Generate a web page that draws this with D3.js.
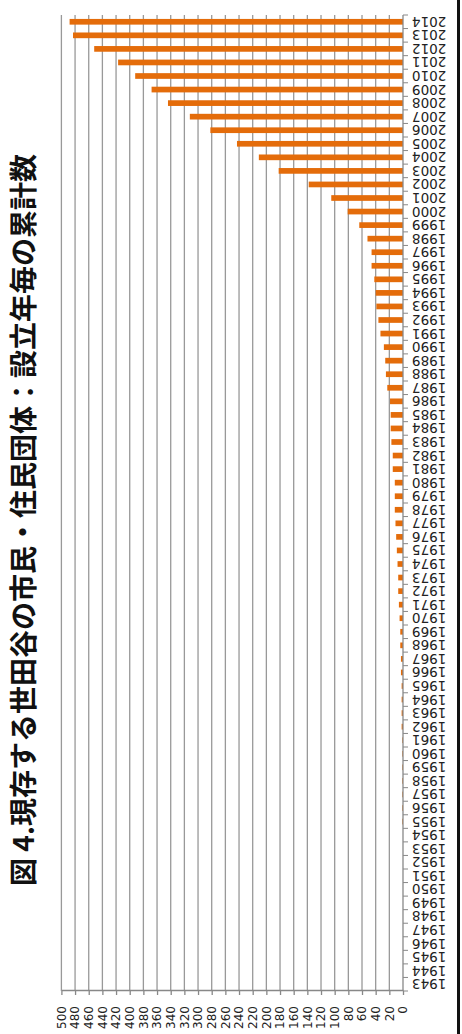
<!DOCTYPE html>
<html>
<head>
<meta charset="utf-8">
<script src="https://cdn.jsdelivr.net/npm/d3@7"></script>
<style>
  html, body { margin: 0; padding: 0; background: #fff; }
  svg { display: block; }
</style>
</head>
<body>
<svg id="chart" width="462" height="1034"></svg>
<script>
// ---- data ----
const title = "図 4.現存する世田谷の市民・住民団体：設立年毎の累計数";
const years = d3.range(1943, 2015).map(String);
const counts = [
  0, 0, 0, 0, 0, 0, 0, 0, 0, 0, 0, 0,        // 1943-1954
  1, 1, 1, 1, 1, 1, 1,                         // 1955-1961
  2, 2, 2, 2,                                  // 1962-1965
  3, 3, 4, 4,                                  // 1966-1969
  5, 6, 7, 7, 8, 9, 10, 11,                    // 1970-1977
  12, 12, 12, 15, 15, 17, 18, 18, 19,          // 1978-1986
  23, 25, 26, 28, 33, 36, 39, 40, 42,          // 1987-1995
  46, 46, 52, 64, 81, 105,                     // 1996-2001
  138, 182, 211, 243, 282, 312, 344, 368,      // 2002-2009
  392, 417, 452, 483, 488                      // 2010-2014
];
const valueTicks = d3.range(0, 501, 20);

// ---- layout (original unrotated chart: width 1034, height 462) ----
const W = 1034, H = 462;
const svg = d3.select("#chart");
const g = svg.append("g").attr("transform", `translate(0,${W}) rotate(-90)`);

const x = d3.scaleBand().domain(years).range([43, 1019]).paddingInner(0.58).paddingOuter(0.29);
const y = d3.scaleLinear().domain([0, 500]).range([403, 61.4]);
const step = x.step();

// gridlines
g.append("g").selectAll("line").data(valueTicks.filter(t => t > 0)).join("line")
  .attr("x1", 43).attr("x2", 1019)
  .attr("y1", d => y(d)).attr("y2", d => y(d))
  .attr("stroke", "#999").attr("stroke-width", 1.3);

// bars
g.append("g").selectAll("rect").data(years).join("rect")
  .attr("x", d => x(d))
  .attr("width", x.bandwidth())
  .attr("y", (d, i) => y(counts[i]))
  .attr("height", (d, i) => y(0) - y(counts[i]))
  .attr("fill", "#E46C0A");

// value axis
const yAxis = g.append("g").attr("transform", "translate(43,0)")
  .call(d3.axisLeft(y).tickValues(valueTicks).tickSize(4).tickSizeOuter(0).tickPadding(11));
yAxis.select(".domain").attr("stroke", "#888").attr("stroke-width", 1.3);
yAxis.selectAll(".tick line").attr("stroke", "#888").attr("stroke-width", 1.3);
yAxis.selectAll("text").attr("font-family", "DejaVu Sans, sans-serif").attr("font-size", 12).attr("fill", "#222");

// category axis line and ticks
g.append("line").attr("x1", 43).attr("x2", 1019).attr("y1", 403).attr("y2", 403)
  .attr("stroke", "#888").attr("stroke-width", 1.3);
g.append("g").selectAll("line").data(d3.range(0, years.length + 1)).join("line")
  .attr("x1", i => 43 + i * step).attr("x2", i => 43 + i * step)
  .attr("y1", 403).attr("y2", 408)
  .attr("stroke", "#888");

// category labels
g.append("g").selectAll("text").data(years).join("text")
  .attr("transform", d => `translate(${x(d) + x.bandwidth() / 2},412) rotate(-90)`)
  .attr("text-anchor", "end")
  .attr("dominant-baseline", "central")
  .attr("font-family", "DejaVu Sans, sans-serif")
  .attr("font-size", 13.5)
  .attr("fill", "#222")
  .text(d => d);

// title
g.append("text")
  .attr("x", 514).attr("y", 21.5)
  .attr("text-anchor", "middle")
  .attr("dominant-baseline", "central")
  .attr("font-family", "Noto Sans CJK JP, sans-serif")
  .attr("font-weight", "bold")
  .attr("font-size", 28)
  .attr("fill", "#111")
  .text(title);

// frame edge on the right
svg.append("line").attr("x1", 458.5).attr("x2", 458.5).attr("y1", 0).attr("y2", 1034)
  .attr("stroke", "#111").attr("stroke-width", 3);
</script>
</body>
</html>
